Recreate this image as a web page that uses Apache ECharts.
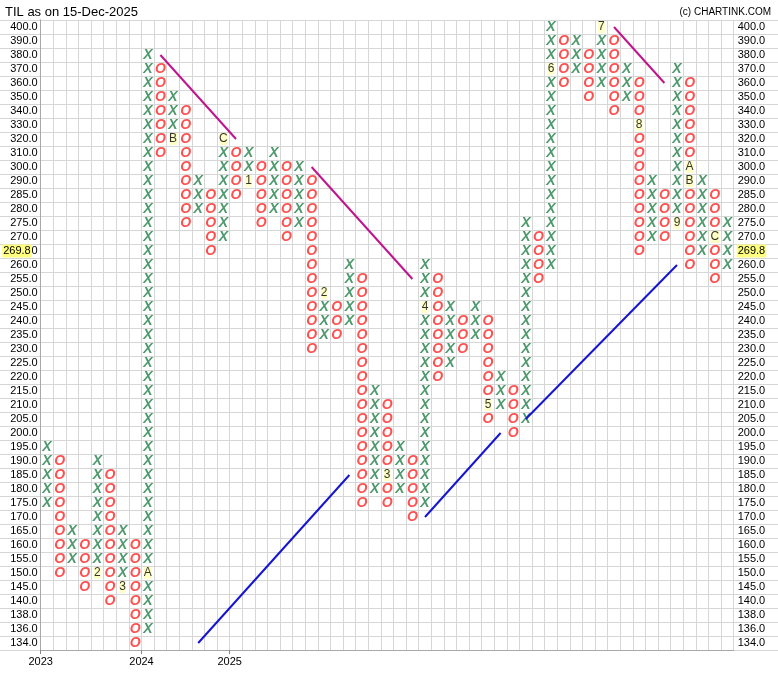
<!DOCTYPE html>
<html>
<head>
<meta charset="utf-8">
<title>TIL Point &amp; Figure</title>
<script src="https://cdn.jsdelivr.net/npm/echarts@6/dist/echarts.min.js"></script>
<style>
  html, body { margin: 0; padding: 0; background: #ffffff; }
  #chart { width: 778px; height: 680px; }
</style>
</head>
<body>
<div id="chart"></div>
<script>
// Box price levels (bottom to top)
const priceLevels = [134, 136, 138, 140, 145, 150, 155, 160, 165, 170, 175, 180, 185, 190, 195,
  200, 205, 210, 215, 220, 225, 230, 235, 240, 245, 250, 255, 260, 265, 270, 275, 280, 285, 290,
  300, 310, 320, 330, 340, 350, 360, 370, 380, 390, 400];

// Point & figure columns: direction, lowest box, highest box
const columnType = ['X','O','X','O','X','O','X','O','X','O','X','O','X','O','X','O','X','O','X','O',
  'X','O','X','O','X','O','X','O','X','O','X','O','X','O','X','O','X','O','X','O',
  'X','O','X','O','X','O','X','O','X','O','X','O','X','O','X'];
const columnLow = [175, 150, 155, 145, 150, 140, 145, 134, 136, 310, 320, 275, 280, 265, 270, 285, 290, 275, 280, 270,
  275, 230, 235, 235, 240, 175, 180, 175, 180, 170, 175, 220, 225, 230, 235, 205, 210, 200, 205, 255,
  260, 360, 370, 350, 360, 340, 350, 265, 270, 270, 275, 260, 265, 255, 260];
const columnHigh = [195, 190, 165, 160, 190, 185, 165, 160, 380, 370, 350, 340, 290, 285, 320, 310, 310, 300, 310, 300,
  300, 290, 250, 245, 260, 255, 215, 210, 195, 190, 260, 255, 245, 240, 245, 240, 220, 215, 275, 270,
  400, 390, 390, 380, 400, 390, 370, 360, 290, 285, 370, 360, 290, 285, 275];

// Month markers: [column, price, month code]
const monthMarks = [[4, 150, '2'], [6, 145, '3'], [8, 150, 'A'], [10, 320, 'B'], [14, 320, 'C'],
  [16, 290, '1'], [22, 250, '2'], [27, 185, '3'], [30, 245, '4'], [35, 210, '5'], [40, 370, '6'],
  [44, 400, '7'], [47, 330, '8'], [50, 275, '9'], [51, 300, 'A'], [51, 290, 'B'], [53, 270, 'C']];

// Year boundaries: [first column of year, label]
const yearStarts = [[0, '2023'], [8, '2024'], [15, '2025']];

// Trend lines: [[column, price], [column, price]]
const resistanceLines = [[[9, 380], [15, 320]], [[21, 300], [29, 255]], [[45, 400], [49, 360]]];
const supportLines = [[[12, 134], [24, 185]], [[30, 170], [36, 200]], [[38, 205], [50, 260]]];

const lastPrice = 269.8;

// ---- build chart data ----
const levelLabels = priceLevels.map(v => v.toFixed(1));
const rowOf = p => priceLevels.indexOf(p);
const nCols = columnType.length;

const markKey = new Set(monthMarks.map(m => m[0] + ':' + m[1]));
const xCells = [], oCells = [];
columnType.forEach((t, c) => {
  priceLevels.forEach((p, r) => {
    if (p < columnLow[c] || p > columnHigh[c]) return;
    if (markKey.has(c + ':' + p)) return;
    (t === 'X' ? xCells : oCells).push([c + 0.5, r]);
  });
});
const monthCells = monthMarks.map(m => [m[0] + 0.5, rowOf(m[1]), m[2]]);

// row holding the last traded price
let lastRow = 0;
priceLevels.forEach((p, r) => { if (p <= lastPrice) lastRow = r; });

const yearMap = {};
yearStarts.forEach(y => { yearMap[y[0]] = y[1]; });

const FONT = 'Liberation Sans, Arial, sans-serif';
const gridColor = '#d6d6d6';
const axisColor = '#a8a8a8';

function trendSeries(lines, color) {
  return lines.map(seg => ({
    type: 'line',
    xAxisIndex: 1,
    yAxisIndex: 1,
    data: seg.map(pt => [pt[0] + 0.5, rowOf(pt[1])]),
    symbol: 'none',
    silent: true,
    lineStyle: { color: color, width: 2 },
    z: 4
  }));
}

function symbolSeries(cells, text, color) {
  return {
    type: 'scatter',
    xAxisIndex: 1,
    yAxisIndex: 1,
    data: cells,
    symbolSize: 1,
    itemStyle: { color: 'transparent' },
    silent: true,
    label: {
      show: true,
      position: 'inside',
      formatter: text,
      color: color,
      fontSize: 14,
      fontWeight: 'bold',
      fontStyle: 'italic',
      fontFamily: FONT
    },
    z: 3
  };
}

const priceTag = {
  show: true,
  formatter: lastPrice.toFixed(1),
  color: '#000',
  fontSize: 11,
  fontFamily: FONT,
  backgroundColor: '#ffff80',
  padding: [1, 1, 0, 1],
  lineHeight: 12
};

const chart = echarts.init(document.getElementById('chart'), null, { renderer: 'canvas' });

chart.setOption({
  backgroundColor: '#ffffff',
  animation: false,
  title: [
    {
      text: 'TIL as on 15-Dec-2025',
      left: 5, top: 6, padding: 0,
      textStyle: { fontSize: 13, fontWeight: 'normal', color: '#000', fontFamily: FONT }
    },
    {
      text: '(c) CHARTINK.COM',
      right: 7, top: 7, padding: 0,
      textStyle: { fontSize: 10, fontWeight: 'normal', color: '#000', fontFamily: FONT }
    }
  ],
  grid: [
    { left: 0, right: 0, top: 20, height: 630, containLabel: false, outerBoundsMode: 'none' },
    { left: 40.7, right: 44.3, top: 20, height: 630, containLabel: false, outerBoundsMode: 'none' }
  ],
  xAxis: [
    {
      gridIndex: 0, type: 'value', min: 0, max: 1, show: false
    },
    {
      gridIndex: 1, type: 'value', min: 0, max: nCols, interval: 1, position: 'bottom',
      axisLine: { show: true, lineStyle: { color: axisColor } },
      axisTick: { show: false },
      axisLabel: { show: false },
      splitLine: { show: true, lineStyle: { color: gridColor, width: 1 } }
    },
    {
      gridIndex: 1, type: 'value', min: 0, max: nCols, position: 'bottom',
      axisLine: { show: false },
      axisTick: { show: true, length: 4, customValues: yearStarts.map(y => y[0]), lineStyle: { color: '#888' } },
      axisLabel: {
        show: true, customValues: yearStarts.map(y => y[0]),
        formatter: v => yearMap[v] || '',
        margin: 6, fontSize: 11, color: '#000', fontFamily: FONT
      },
      splitLine: { show: false }
    }
  ],
  yAxis: [
    {
      gridIndex: 0, type: 'category', data: levelLabels,
      axisLine: { show: false }, axisTick: { show: false }, axisLabel: { show: false },
      splitLine: { show: true, interval: 0, lineStyle: { color: gridColor, width: 1 } }
    },
    {
      gridIndex: 1, type: 'category', data: levelLabels, position: 'left',
      axisLine: { show: true, lineStyle: { color: axisColor } },
      axisTick: { show: false },
      axisLabel: { interval: 0, margin: 3, fontSize: 11, color: '#000', fontFamily: FONT },
      splitLine: { show: false }
    },
    {
      gridIndex: 1, type: 'category', data: levelLabels, position: 'right',
      axisLine: { show: true, lineStyle: { color: axisColor } },
      axisTick: { show: false },
      axisLabel: { interval: 0, margin: 4, fontSize: 11, color: '#000', fontFamily: FONT },
      splitLine: { show: false }
    }
  ],
  series: [
    symbolSeries(xCells, 'X', '#23804a'),
    symbolSeries(oCells, 'O', '#ff2424'),
    {
      type: 'scatter',
      xAxisIndex: 1,
      yAxisIndex: 1,
      data: monthCells,
      symbolSize: 1,
      itemStyle: { color: 'transparent' },
      silent: true,
      label: {
        show: true,
        position: 'inside',
        formatter: p => p.value[2],
        color: '#000',
        fontSize: 12,
        fontFamily: FONT,
        backgroundColor: '#ffffb8',
        padding: [0, 0],
        lineHeight: 12
      },
      z: 3
    },
    // last price tag on both price scales
    {
      type: 'line',
      xAxisIndex: 1,
      yAxisIndex: 1,
      data: [],
      silent: true,
      markLine: {
        silent: true,
        symbol: 'none',
        animation: false,
        lineStyle: { color: 'rgba(0,0,0,0)', width: 1, type: 'solid' },
        data: [
          [{ coord: [0, lastRow], label: Object.assign({ position: 'start', distance: 9 }, priceTag) },
           { coord: [nCols, lastRow] }],
          [{ coord: [0, lastRow] },
           { coord: [nCols, lastRow], label: Object.assign({ position: 'end', distance: 3 }, priceTag) }]
        ]
      },
      z: 6
    },
    ...trendSeries(resistanceLines, '#c0148c'),
    ...trendSeries(supportLines, '#1414d2')
  ]
});
</script>
</body>
</html>
